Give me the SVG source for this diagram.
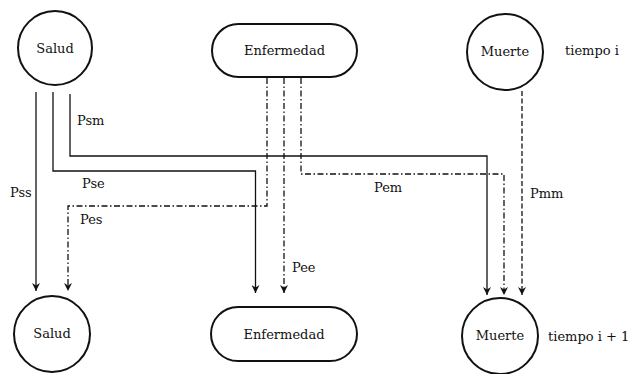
<svg xmlns="http://www.w3.org/2000/svg" width="628" height="374" viewBox="0 0 628 374">
<defs>
<marker id="ah" viewBox="0 0 10 10" refX="10" refY="5" markerWidth="8" markerHeight="8" markerUnits="userSpaceOnUse" orient="auto">
<path d="M0,0 L10,5 L0,10 L3,5 Z" fill="#111"/>
</marker>
</defs>
<style>
.node{fill:none;stroke:#111;stroke-width:2}
text{font-family:'DejaVu Serif',serif;font-size:13px;fill:#111}
.c{text-anchor:middle}
.s{fill:none;stroke:#111;stroke-width:1.3;marker-end:url(#ah)}
.dd{stroke-dasharray:6 2.5 1.5 2.5}
.da{stroke-dasharray:5 2.5}
</style>
<rect width="628" height="374" fill="#fff"/>
<g id="salud-i"><circle class="node" cx="55" cy="48" r="37"/><text class="c" x="55" y="53">Salud</text></g>
<g id="enfermedad-i"><rect class="node" x="212" y="24" width="145" height="53" rx="26.5"/><text class="c" x="284.5" y="55">Enfermedad</text></g>
<g id="muerte-i"><circle class="node" cx="505" cy="52" r="38"/><text class="c" x="505" y="56">Muerte</text></g>
<g id="salud-i1"><circle class="node" cx="52" cy="334" r="38"/><text class="c" x="52" y="338">Salud</text></g>
<g id="enfermedad-i1"><rect class="node" x="211" y="307" width="146" height="54" rx="27"/><text class="c" x="284" y="339">Enfermedad</text></g>
<g id="muerte-i1"><circle class="node" cx="500" cy="336" r="38"/><text class="c" x="500" y="340">Muerte</text></g>
<text x="565" y="55">tiempo i</text>
<text x="548" y="341">tiempo i + 1</text>
<g id="connectors">
<path class="s" d="M36,92 V291"/>
<path class="s" d="M53,92 V171 H255.5 V293"/>
<path class="s" d="M70,94 V156 H487 V295"/>
<path class="s dd" d="M267,78 V206 H68 V291"/>
<path class="s dd" d="M284,78 V293"/>
<path class="s dd" d="M301,78 V174 H504 V295"/>
<path class="s da" d="M522,91 V295"/>
</g>
<g id="labels">
<text x="77" y="125">Psm</text>
<text x="82" y="188">Pse</text>
<text x="10" y="197">Pss</text>
<text x="80" y="224">Pes</text>
<text x="292" y="272">Pee</text>
<text x="374" y="192">Pem</text>
<text x="530" y="198">Pmm</text>
</g>
</svg>
